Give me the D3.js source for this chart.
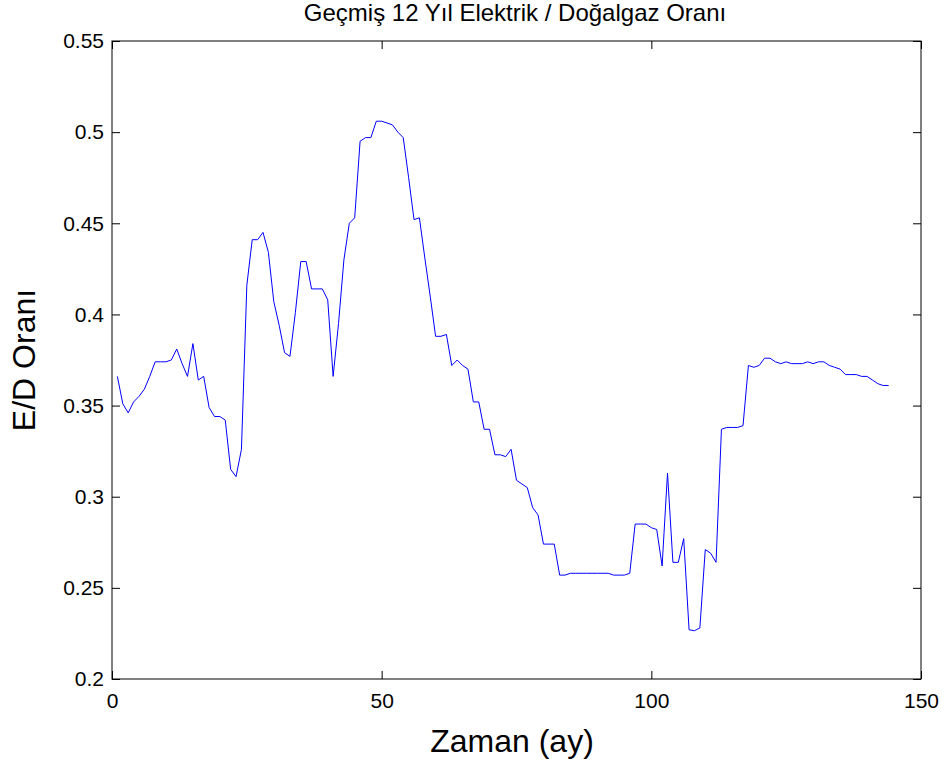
<!DOCTYPE html>
<html>
<head>
<meta charset="utf-8">
<script src="https://cdn.jsdelivr.net/npm/d3@7"></script>
<style>
  html, body { margin: 0; padding: 0; background: #fff; }
  svg { display: block; }
  text { font-family: "Liberation Sans", Arial, sans-serif; fill: #000; }
</style>
</head>
<body>
<svg id="chart" width="948" height="767"></svg>
<script>
const titleText = "Geçmiş 12 Yıl Elektrik / Doğalgaz Oranı";
const xLabelText = "Zaman (ay)";
const yLabelText = "E/D Oranı";

const xTicks = [0, 50, 100, 150];
const xTickLabels = ["0", "50", "100", "150"];
const yTicks = [0.2, 0.25, 0.3, 0.35, 0.4, 0.45, 0.5, 0.55];
const yTickLabels = ["0.2", "0.25", "0.3", "0.35", "0.4", "0.45", "0.5", "0.55"];

// monthly ratio values, months 1..144
const months = d3.range(1, 145);
const ratio = [
  0.366, 0.351, 0.346, 0.352, 0.355, 0.359, 0.366, 0.374, 0.374, 0.374,
  0.375, 0.381, 0.373, 0.366, 0.384, 0.364, 0.366, 0.349, 0.344, 0.344,
  0.342, 0.315, 0.311, 0.326, 0.416, 0.441, 0.441, 0.445, 0.434, 0.407,
  0.394, 0.379, 0.377, 0.401, 0.429, 0.429, 0.414, 0.414, 0.414, 0.408,
  0.366, 0.395, 0.430, 0.450, 0.453, 0.495, 0.497, 0.497, 0.506, 0.506,
  0.505, 0.504, 0.500, 0.497, 0.475, 0.452, 0.453, 0.431, 0.410, 0.388,
  0.388, 0.389, 0.372, 0.375, 0.372, 0.370, 0.352, 0.352, 0.337, 0.337,
  0.323, 0.323, 0.322, 0.326, 0.309, 0.307, 0.305, 0.294, 0.290, 0.274,
  0.274, 0.274, 0.257, 0.257, 0.258, 0.258, 0.258, 0.258, 0.258, 0.258,
  0.258, 0.258, 0.257, 0.257, 0.257, 0.258, 0.285, 0.285, 0.285, 0.283,
  0.282, 0.262, 0.313, 0.264, 0.264, 0.277, 0.227, 0.2265, 0.228, 0.271,
  0.269, 0.264, 0.337, 0.338, 0.338, 0.338, 0.339, 0.372, 0.371, 0.372,
  0.376, 0.376, 0.374, 0.373, 0.374, 0.373, 0.373, 0.373, 0.374, 0.373,
  0.374, 0.374, 0.372, 0.371, 0.370, 0.367, 0.367, 0.367, 0.366, 0.366,
  0.364, 0.362, 0.361, 0.361
];

(function () {
const svg = d3.select("#chart");
const mLeft = 112, mRight = 921, mTop = 41, mBottom = 679;
const tickLen = 8;

const x = d3.scaleLinear().domain([0, 150]).range([mLeft, mRight]);
const y = d3.scaleLinear().domain([0.2, 0.55]).range([mBottom, mTop]);

// data line
const data = months.map((m, i) => ({ m, v: ratio[i] }));
svg.append("path")
  .datum(data)
  .attr("fill", "none")
  .attr("stroke", "#0000ff")
  .attr("stroke-width", 1)
  .attr("d", d3.line().x(d => x(d.m)).y(d => y(d.v)));

// axes (inward ticks on all four sides)
const fmtX = (d) => xTickLabels[xTicks.indexOf(d)];
const fmtY = (d) => yTickLabels[yTicks.findIndex(t => Math.abs(t - d) < 1e-9)];

const gB = svg.append("g").attr("transform", `translate(0,${mBottom})`)
  .call(d3.axisBottom(x).tickValues(xTicks).tickFormat(fmtX).tickSizeInner(-tickLen).tickSizeOuter(0).tickPadding(14));
const gT = svg.append("g").attr("transform", `translate(0,${mTop})`)
  .call(d3.axisTop(x).tickValues(xTicks).tickFormat("").tickSizeInner(-tickLen).tickSizeOuter(0));
const gL = svg.append("g").attr("transform", `translate(${mLeft},0)`)
  .call(d3.axisLeft(y).tickValues(yTicks).tickFormat(fmtY).tickSizeInner(-tickLen).tickSizeOuter(0).tickPadding(8));
const gR = svg.append("g").attr("transform", `translate(${mRight},0)`)
  .call(d3.axisRight(y).tickValues(yTicks).tickFormat("").tickSizeInner(-tickLen).tickSizeOuter(0));

[gB, gT, gL, gR].forEach(g => {
  g.select(".domain").remove();
  g.selectAll(".tick line").attr("stroke", "#000").attr("stroke-width", 1);
  g.selectAll(".tick text").attr("font-size", 21).attr("font-family", "Liberation Sans, Arial, sans-serif").attr("fill", "#000");
});

// box
svg.append("rect")
  .attr("x", mLeft).attr("y", mTop)
  .attr("width", mRight - mLeft).attr("height", mBottom - mTop)
  .attr("fill", "none").attr("stroke", "#000").attr("stroke-width", 1);

// title
svg.append("text")
  .attr("x", 515).attr("y", 21)
  .attr("text-anchor", "middle").attr("font-size", 24)
  .text(titleText);

// axis labels
svg.append("text")
  .attr("x", 512).attr("y", 752)
  .attr("text-anchor", "middle").attr("font-size", 32)
  .text(xLabelText);

svg.append("text")
  .attr("transform", `translate(35,${(mTop + mBottom) / 2}) rotate(-90)`)
  .attr("text-anchor", "middle").attr("font-size", 32)
  .text(yLabelText);
})();
</script>
</body>
</html>
